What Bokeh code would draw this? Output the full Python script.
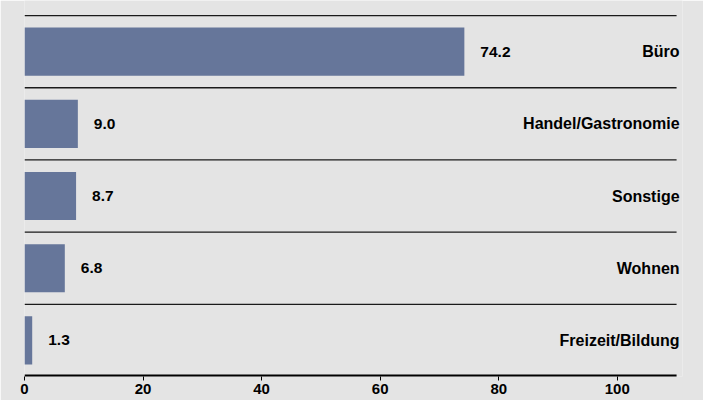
from bokeh.plotting import figure
from bokeh.models import Range1d, ColumnDataSource, LabelSet, FixedTicker
from bokeh.core.properties import value
from bokeh.embed import file_html
from bokeh.resources import INLINE

categories = ["Büro", "Handel/Gastronomie", "Sonstige", "Wohnen", "Freizeit/Bildung"]
values = [74.2, 9.0, 8.7, 6.8, 1.3]
value_labels = ["74.2", "9.0", "8.7", "6.8", "1.3"]
x_ticks = [0, 20, 40, 60, 80, 100]
XMAX = 110
XVIEW = 111

BG = "#e4e4e4"
BAR = "#66769a"
FONT = "Liberation Sans"

n = len(categories)
pos = [n - 1 - i for i in range(n)]
src = ColumnDataSource(dict(
    cat=categories, val=values, lab=value_labels, y=pos,
    sep=[p_ + 0.5 for p_ in pos], x0=[0] * n, xr=[XMAX] * n,
))

p = figure(width=703, height=400, output_backend="svg", toolbar_location=None,
           x_range=Range1d(0, XVIEW), y_range=Range1d(-0.5, n - 0.5 + 15 / 72),
           min_border_left=24, min_border_right=21, min_border_top=0, min_border_bottom=24)
p.background_fill_color = BG
p.border_fill_color = BG
p.outline_line_color = None
p.grid.visible = False
p.yaxis.visible = False

p.segment(x0="x0", x1="xr", y0="sep", y1="sep", source=src, line_color="#1a1a1a", line_width=1.3)
# axis baseline, limited to the 0..XMAX span
p.segment(x0=[0], x1=[XMAX], y0=[-0.5], y1=[-0.5], line_color="black", line_width=4)
p.hbar(y="y", left=0, right="val", height=0.667, source=src, fill_color=BAR, line_color=None)
p.text(x="val", y="y", text="lab", source=src, x_offset=16, text_align="left", text_baseline="middle",
       text_font=value(FONT), text_font_style="bold", text_font_size="15.5px", text_color="black")

labels = LabelSet(x="xr", y="y", text="cat", source=src, x_offset=3, text_align="right",
                  text_baseline="middle", text_font=value(FONT), text_font_style="bold",
                  text_font_size="16px", text_color="black")
p.add_layout(labels)

ax = p.xaxis[0]
ax.ticker = FixedTicker(ticks=x_ticks)
ax.axis_line_color = None
ax.major_tick_in = 0
ax.major_tick_out = 4
ax.major_tick_line_color = "black"
ax.minor_tick_line_color = None
ax.major_label_standoff = 3
ax.major_label_text_font = FONT
ax.major_label_text_font_style = "bold"
ax.major_label_text_font_size = "15px"
ax.major_label_text_color = "black"

html = file_html(p, INLINE)
open("out.html", "w").write(html)
